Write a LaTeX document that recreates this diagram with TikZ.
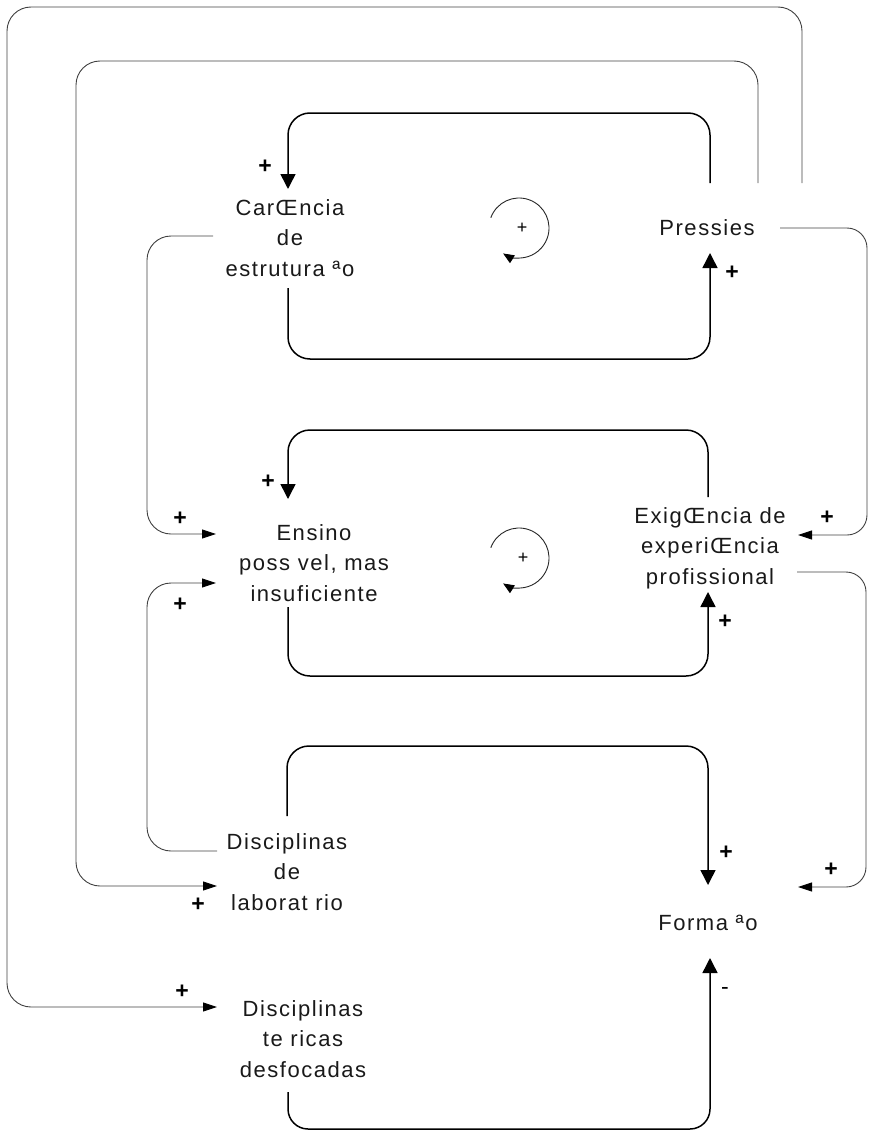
\documentclass[tikz,border=0pt]{standalone}
\usepackage{fontspec}
\setmainfont{Liberation Sans}[LetterSpace=7]
\newfontfamily\signfont{Liberation Sans}
\usetikzlibrary{arrows.meta,calc}
\begin{document}
\begin{tikzpicture}[x=1pt,y=-1pt,
  lbl/.style={font=\fontsize{22}{30.5}\selectfont, align=center, inner sep=0pt, text=black!90},
  sgn/.style={font=\signfont\bfseries\fontsize{23}{23}\selectfont, inner sep=0pt},
  msgn/.style={font=\signfont\fontsize{23}{23}\selectfont, inner sep=0pt},
  lsgn/.style={font=\signfont\fontsize{18}{18}\selectfont, inner sep=0pt},
  boldline/.style={line width=1.5pt, rounded corners=22pt, -{Triangle[length=15pt,width=15pt]}},
  thinline/.style={line width=0.9pt, draw=black!75, rounded corners=24pt, -{Triangle[length=14pt,width=9pt,fill=black,color=black]}},
  loopline/.style={line width=0.9pt, draw=black!85, -{Triangle[length=11pt,width=9pt,fill=black,color=black]}}]
\useasboundingbox (0,0) rectangle (869,1132);

% variables
\node[lbl] (car) at (290,238) {CarŒncia\\de\\estrutura ªo};
\node[lbl] (pre) at (707,228) {Pressies};
\node[lbl] (ens) at (314,563) {Ensino\\poss vel, mas\\insuficiente};
\node[lbl] (exi) at (710,548) {ExigŒncia de\\experiŒncia\\profissional};
\node[lbl] (lab) at (287,872) {Disciplinas\\de\\laborat rio};
\node[lbl] (frm) at (708,923) {Forma ªo};
\node[lbl] (teo) at (303,1039) {Disciplinas\\te ricas\\desfocadas};

% bold loops
\draw[boldline] ($(car)+(-2,50)$) |- ($(pre)+(3,131)$) -- ($(pre)+(3,25)$);
\draw[boldline] ($(pre)+(3,-45)$) |- ($(car)+(-2,-125)$) -- ($(car)+(-2,-49)$);
\draw[boldline] ($(ens)+(-26,44)$) |- ($(exi)+(-2,128)$) -- ($(exi)+(-2,44)$);
\draw[boldline] ($(exi)+(-2,-51)$) |- ($(ens)+(-26,-133)$) -- ($(ens)+(-26,-64)$);
\draw[boldline] ($(lab)+(0,-56)$) |- ($(frm)+(0,-177)$) -- ($(frm)+(0,-38)$);
\draw[boldline, rounded corners=20pt] ($(teo)+(-15,53)$) |- ($(frm)+(2,206)$) -- ($(frm)+(2,35)$);

% thin connectors
\draw[thinline] ($(pre)+(51,-45)$) -- ($(pre)+(51,-167)$) -- ($(lab)+(-211,-811)$) -- ($(lab)+(-211,14)$) -- ($(lab)+(-70,14)$);
\draw[thinline] ($(pre)+(95,-45)$) -- ($(pre)+(95,-221)$) -- ($(teo)+(-296,-1032)$) -- ($(teo)+(-296,-32)$) -- ($(teo)+(-86,-32)$);
\draw[thinline] ($(car)+(-77,-2)$) -- ($(car)+(-143,-2)$) -- ($(ens)+(-167,-29)$) -- ($(ens)+(-98,-29)$);
\draw[thinline] ($(lab)+(-70,-21)$) -- ($(lab)+(-140,-21)$) -- ($(ens)+(-167,20)$) -- ($(ens)+(-98,20)$);
\draw[thinline, rounded corners=20pt] ($(pre)+(73,0)$) -- ($(pre)+(160,0)$) -- ($(exi)+(157,-13)$) -- ($(exi)+(88,-13)$);
\draw[thinline, rounded corners=20pt] ($(exi)+(87,24)$) -- ($(exi)+(156,24)$) -- ($(frm)+(158,-36)$) -- ($(frm)+(90,-36)$);

% loop symbols
\coordinate (lp1) at (519,228);
\coordinate (lp2) at (519,558);
\draw[loopline] ([shift={(-160:30)}]lp1) arc[start angle=-160, end angle=122, radius=30];
\draw[loopline] ([shift={(-160:30)}]lp2) arc[start angle=-160, end angle=122, radius=30];
\node[lsgn] (lps1) at (522,228) {+};
\node[lsgn] (lps2) at (523,558) {+};

% polarity signs
\node[sgn] (s1) at (265,167) {+};
\node[sgn] (s2) at (732,273) {+};
\node[sgn] (s3) at (180,519) {+};
\node[sgn] (s4) at (268,482) {+};
\node[sgn] (s5) at (180,605) {+};
\node[sgn] (s6) at (725,622) {+};
\node[sgn] (s7) at (827,518) {+};
\node[sgn] (s8) at (198,905) {+};
\node[sgn] (s9) at (726,853) {+};
\node[sgn] (s10) at (831,870) {+};
\node[sgn] (s11) at (182,992) {+};
\node[msgn] (s12) at (725,991) {-};
\end{tikzpicture}
\end{document}
